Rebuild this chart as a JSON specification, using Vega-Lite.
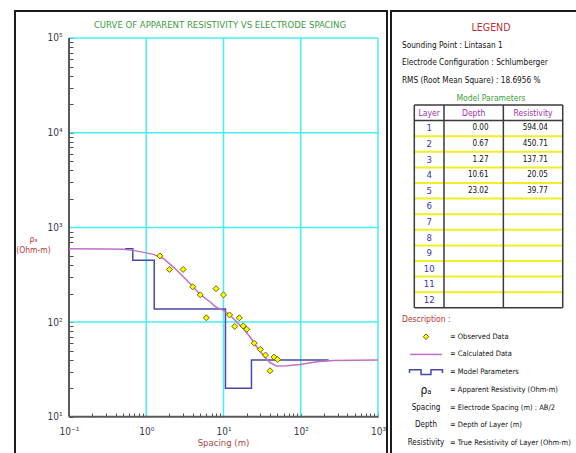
{
  "$schema": "https://vega.github.io/schema/vega-lite/v6.json",
  "background": "white",
  "padding": {"left": 14, "top": 10, "right": 0, "bottom": 0},
  "spacing": 2,
  "config": {
    "view": {"stroke": "#1c1c1c", "strokeWidth": 2},
    "font": "Liberation Sans Narrow, DejaVu Sans Condensed, Liberation Sans, sans-serif",
    "text": {"font": "Liberation Sans Narrow, DejaVu Sans Condensed, Liberation Sans, sans-serif", "fontSize": 9}
  },
  "hconcat": [
    {
      "width": 372,
      "height": 453,
      "title": {
        "text": "CURVE OF APPARENT RESISTIVITY VS ELECTRODE SPACING",
        "fontSize": 9.5,
        "fontWeight": "normal",
        "color": "#3c9c3c",
        "anchor": "middle",
        "dx": 19,
        "offset": -18
      },
      "layer": [
        {
          "data": {"values": [{"gx": 1}, {"gx": 10}, {"gx": 100}, {"gx": 1000}]},
          "mark": {"type": "rule", "color": "#45eef5", "strokeWidth": 1.5},
          "encoding": {
            "x": {
              "field": "gx",
              "type": "quantitative",
              "scale": {"type": "log", "domain": [0.02, 1308.3], "nice": false},
              "axis": {
                "orient": "bottom",
                "offset": -47,
                "values": [0.1, 0.2, 0.3, 0.4, 0.5, 0.6, 0.7, 0.8, 0.9, 1, 2, 3, 4, 5, 6, 7, 8, 9, 10, 20, 30, 40, 50, 60, 70, 80, 90, 100, 200, 300, 400, 500, 600, 700, 800, 900, 1000],
                "labelExpr": "datum.value == 0.1 ? '10⁻¹' : datum.value == 1 ? '10⁰' : datum.value == 10 ? '10¹' : datum.value == 100 ? '10²' : datum.value == 1000 ? '10³' : ''",
                "domain": false,
                "grid": false,
                "tickSize": -4,
                "tickColor": "#505050",
                "tickWidth": 1,
                "labelPadding": 13,
                "labelFontSize": 10,
                "labelColor": "#3a3a4a",
                "labelOverlap": false,
                "labelFlush": false,
                "title": "Spacing (m)",
                "titleColor": "#a84848",
                "titleFontSize": 9.5,
                "titleFontWeight": "normal",
                "titleX": 208,
                "titleY": 25,
                "titleAlign": "center",
                "titleBaseline": "middle"
              }
            },
            "y": {"datum": 10},
            "y2": {"datum": 100000}
          }
        },
        {
          "data": {"values": [{"gy": 100}, {"gy": 1000}, {"gy": 10000}, {"gy": 100000}]},
          "mark": {"type": "rule", "color": "#45eef5", "strokeWidth": 1.5},
          "encoding": {
            "y": {
              "field": "gy",
              "type": "quantitative",
              "scale": {"type": "log", "domain": [3.174, 192800], "nice": false},
              "axis": {
                "orient": "left",
                "offset": -54,
                "values": [10, 20, 30, 40, 50, 60, 70, 80, 90, 100, 200, 300, 400, 500, 600, 700, 800, 900, 1000, 2000, 3000, 4000, 5000, 6000, 7000, 8000, 9000, 10000, 20000, 30000, 40000, 50000, 60000, 70000, 80000, 90000, 100000],
                "labelExpr": "datum.value == 10 ? '10¹' : datum.value == 100 ? '10²' : datum.value == 1000 ? '10³' : datum.value == 10000 ? '10⁴' : datum.value == 100000 ? '10⁵' : ''",
                "domain": false,
                "grid": false,
                "tickSize": -4,
                "tickColor": "#505050",
                "tickWidth": 1,
                "labelPadding": 11,
                "labelFontSize": 10,
                "labelColor": "#3a3a4a",
                "labelOverlap": false,
                "labelFlush": false,
                "title": ["ρₐ", "(Ohm-m)"],
                "titleColor": "#b83a3a",
                "titleFontSize": 8.5,
                "titleFontWeight": "normal",
                "titleAngle": 0,
                "titleX": -36,
                "titleY": 227,
                "titleAlign": "center",
                "titleBaseline": "middle",
                "titleLineHeight": 11
              }
            },
            "x": {"datum": 0.1},
            "x2": {"datum": 1000}
          }
        },
        {
          "data": {"values": [{}]},
          "mark": {"type": "rule", "color": "#5a5a5a", "strokeWidth": 2},
          "encoding": {"x": {"datum": 0.1}, "x2": {"datum": 1000}, "y": {"datum": 10}}
        },
        {
          "data": {"values": [{}]},
          "mark": {"type": "rule", "color": "#5a5a5a", "strokeWidth": 2},
          "encoding": {"x": {"datum": 0.1}, "y": {"datum": 10}, "y2": {"datum": 100000}}
        },
        {
          "data": {
            "values": [
              {"depth": 0.53, "rho": 594.04},
              {"depth": 0.67, "rho": 450.71},
              {"depth": 1.27, "rho": 137.71},
              {"depth": 10.61, "rho": 20.05},
              {"depth": 23.02, "rho": 39.77},
              {"depth": 230, "rho": 39.77}
            ]
          },
          "mark": {"type": "line", "interpolate": "step-after", "color": "#4848a8", "strokeWidth": 1.5},
          "encoding": {
            "x": {"field": "depth", "type": "quantitative"},
            "y": {"field": "rho", "type": "quantitative"}
          }
        },
        {
          "data": {
            "values": [
              {"spacing": 0.1, "rho": 594},
              {"spacing": 0.3, "rho": 593},
              {"spacing": 0.5, "rho": 588},
              {"spacing": 0.685, "rho": 572},
              {"spacing": 0.92, "rho": 545},
              {"spacing": 1.24, "rho": 519},
              {"spacing": 1.68, "rho": 467},
              {"spacing": 2.25, "rho": 381},
              {"spacing": 3.04, "rho": 299},
              {"spacing": 3.71, "rho": 254},
              {"spacing": 5.0, "rho": 196},
              {"spacing": 6.73, "rho": 163},
              {"spacing": 8.0, "rho": 144},
              {"spacing": 10, "rho": 133},
              {"spacing": 12.2, "rho": 118},
              {"spacing": 14.9, "rho": 100},
              {"spacing": 18.1, "rho": 85},
              {"spacing": 22.1, "rho": 69.5},
              {"spacing": 27, "rho": 54.5},
              {"spacing": 33, "rho": 44.5},
              {"spacing": 40.2, "rho": 37.2},
              {"spacing": 49, "rho": 34.3},
              {"spacing": 66, "rho": 34.7},
              {"spacing": 98.5, "rho": 35.7},
              {"spacing": 162, "rho": 38.2},
              {"spacing": 265, "rho": 39.4},
              {"spacing": 1000, "rho": 39.77}
            ]
          },
          "mark": {"type": "line", "color": "#c070c0", "strokeWidth": 1.5},
          "encoding": {
            "x": {"field": "spacing", "type": "quantitative"},
            "y": {"field": "rho", "type": "quantitative"}
          }
        },
        {
          "data": {
            "values": [
              {"spacing": 1.5, "rho": 500},
              {"spacing": 2, "rho": 360},
              {"spacing": 3, "rho": 360},
              {"spacing": 4, "rho": 236},
              {"spacing": 5, "rho": 194},
              {"spacing": 6, "rho": 111},
              {"spacing": 8, "rho": 225},
              {"spacing": 10, "rho": 194},
              {"spacing": 12, "rho": 119},
              {"spacing": 14, "rho": 90},
              {"spacing": 16, "rho": 111},
              {"spacing": 18, "rho": 91},
              {"spacing": 20, "rho": 84},
              {"spacing": 25, "rho": 60},
              {"spacing": 30, "rho": 51.5},
              {"spacing": 35, "rho": 44.9},
              {"spacing": 40, "rho": 30.6},
              {"spacing": 45, "rho": 42.7},
              {"spacing": 50, "rho": 40.4}
            ]
          },
          "mark": {"type": "point", "shape": "diamond", "filled": true, "fill": "#ffff00", "stroke": "#6b6b00", "strokeWidth": 1, "size": 36, "opacity": 1},
          "encoding": {
            "x": {"field": "spacing", "type": "quantitative"},
            "y": {"field": "rho", "type": "quantitative"}
          }
        }
      ]
    },
    {
      "width": 200,
      "height": 453,
      "resolve": {"scale": {"x": "independent", "y": "independent"}},
      "layer": [
        {
          "layer": [
            {
              "data": {"values": [{"line": "legend", "text": "LEGEND"}]},
              "mark": {"type": "text", "color": "#b83232", "fontSize": 10.5, "align": "center"},
              "encoding": {
                "x": {"datum": "center", "type": "nominal", "scale": {"type": "point", "domain": ["left", "center"], "range": [11, 100], "padding": 0}, "axis": null},
                "y": {"field": "line", "type": "nominal", "scale": {"type": "point", "domain": ["legend", "sounding", "electrode", "rms", "model"], "range": [17, 87], "padding": 0}, "axis": null},
                "text": {"field": "text"}
              }
            },
            {
              "data": {
                "values": [
                  {"line": "sounding", "text": "Sounding Point : Lintasan 1"},
                  {"line": "electrode", "text": "Electrode Configuration : Schlumberger"},
                  {"line": "rms", "text": "RMS (Root Mean Square) : 18.6956 %"}
                ]
              },
              "mark": {"type": "text", "color": "#111111", "fontSize": 8.2, "align": "left"},
              "encoding": {
                "x": {"datum": "left", "type": "nominal", "axis": null},
                "y": {"field": "line", "type": "nominal", "axis": null},
                "text": {"field": "text"}
              }
            },
            {
              "data": {"values": [{"line": "model", "text": "Model Parameters"}]},
              "mark": {"type": "text", "color": "#3ca03c", "fontSize": 8.5, "align": "center"},
              "encoding": {
                "x": {"datum": "center", "type": "nominal", "axis": null},
                "y": {"field": "line", "type": "nominal", "axis": null},
                "text": {"field": "text"}
              }
            }
          ]
        },
        {
          "layer": [
            {
              "data": {"values": [{"r": "2"}, {"r": "3"}, {"r": "4"}, {"r": "5"}, {"r": "6"}, {"r": "7"}, {"r": "8"}, {"r": "9"}, {"r": "10"}, {"r": "11"}, {"r": "12"}]},
              "mark": {"type": "rule", "color": "#f2ee20", "strokeWidth": 2},
              "encoding": {
                "y": {"field": "r", "type": "nominal", "bandPosition": 0, "scale": {"type": "band", "domain": ["hdr", "1", "2", "3", "4", "5", "6", "7", "8", "9", "10", "11", "12", "end"], "range": [94, 312.4], "paddingInner": 0, "paddingOuter": 0}, "axis": null},
                "x": {"datum": "L", "type": "nominal", "bandPosition": 0, "scale": {"type": "band", "domain": ["L", "D1", "D2", "R1", "R2", "end"], "range": [23.3, 201.4], "paddingInner": 0, "paddingOuter": 0}, "axis": null},
                "x2": {"datum": "end", "bandPosition": 0}
              }
            },
            {
              "data": {"values": [{"r": "hdr"}, {"r": "1"}, {"r": "end"}]},
              "mark": {"type": "rule", "color": "#3a3a3a", "strokeWidth": 1.5},
              "encoding": {
                "y": {"field": "r", "type": "nominal", "bandPosition": 0, "axis": null},
                "x": {"datum": "L", "type": "nominal", "bandPosition": 0, "axis": null},
                "x2": {"datum": "end", "bandPosition": 0}
              }
            },
            {
              "data": {"values": [{"c": "L"}, {"c": "D1"}, {"c": "R1"}, {"c": "end"}]},
              "mark": {"type": "rule", "color": "#3a3a3a", "strokeWidth": 1.5},
              "encoding": {
                "x": {"field": "c", "type": "nominal", "bandPosition": 0, "axis": null},
                "y": {"datum": "hdr", "type": "nominal", "bandPosition": 0, "axis": null},
                "y2": {"datum": "end", "bandPosition": 0}
              }
            },
            {
              "data": {"values": [{"r": "hdr", "text": "Layer"}]},
              "mark": {"type": "text", "color": "#a030a8", "fontSize": 8.5, "align": "center"},
              "encoding": {
                "x": {"datum": "L", "type": "nominal", "bandPosition": 0.5, "axis": null},
                "y": {"field": "r", "type": "nominal", "bandPosition": 0.5, "axis": null},
                "text": {"field": "text"}
              }
            },
            {
              "data": {"values": [{"r": "hdr", "c": "D2", "text": "Depth"}, {"r": "hdr", "c": "R2", "text": "Resistivity"}]},
              "mark": {"type": "text", "color": "#a030a8", "fontSize": 8.5, "align": "center"},
              "encoding": {
                "x": {"field": "c", "type": "nominal", "bandPosition": 0, "axis": null},
                "y": {"field": "r", "type": "nominal", "bandPosition": 0.5, "axis": null},
                "text": {"field": "text"}
              }
            },
            {
              "data": {"name": "table", "values": [
                {"layer": "1", "depth": "0.00", "res": "594.04"},
                {"layer": "2", "depth": "0.67", "res": "450.71"},
                {"layer": "3", "depth": "1.27", "res": "137.71"},
                {"layer": "4", "depth": "10.61", "res": "20.05"},
                {"layer": "5", "depth": "23.02", "res": "39.77"},
                {"layer": "6", "depth": "", "res": ""},
                {"layer": "7", "depth": "", "res": ""},
                {"layer": "8", "depth": "", "res": ""},
                {"layer": "9", "depth": "", "res": ""},
                {"layer": "10", "depth": "", "res": ""},
                {"layer": "11", "depth": "", "res": ""},
                {"layer": "12", "depth": "", "res": ""}
              ]},
              "layer": [
                {
                  "mark": {"type": "text", "color": "#3838a8", "fontSize": 9.5, "align": "center"},
                  "encoding": {
                    "x": {"datum": "L", "type": "nominal", "bandPosition": 0.5, "axis": null},
                    "y": {"field": "layer", "type": "nominal", "bandPosition": 0.5, "axis": null},
                    "text": {"field": "layer"}
                  }
                },
                {
                  "mark": {"type": "text", "color": "#111111", "fontSize": 8, "align": "right"},
                  "encoding": {
                    "x": {"datum": "D2", "type": "nominal", "bandPosition": 0.5, "axis": null},
                    "y": {"field": "layer", "type": "nominal", "bandPosition": 0.5, "axis": null},
                    "text": {"field": "depth"}
                  }
                },
                {
                  "mark": {"type": "text", "color": "#111111", "fontSize": 8, "align": "right"},
                  "encoding": {
                    "x": {"datum": "R2", "type": "nominal", "bandPosition": 0.5, "axis": null},
                    "y": {"field": "layer", "type": "nominal", "bandPosition": 0.5, "axis": null},
                    "text": {"field": "res"}
                  }
                }
              ]
            }
          ]
        },
        {
          "layer": [
            {
              "data": {"values": [{"item": "desc", "text": "Description :"}]},
              "mark": {"type": "text", "color": "#b83232", "fontSize": 8.5, "align": "left"},
              "encoding": {
                "x": {"datum": "left", "type": "nominal", "scale": {"type": "point", "domain": ["left", "sym", "eq"], "range": [11, 59], "padding": 0}, "axis": null},
                "y": {"field": "item", "type": "nominal", "scale": {"type": "point", "domain": ["desc", "obs", "calc", "model", "rho", "spacing", "depth", "res"], "range": [308, 432], "padding": 0}, "axis": null},
                "text": {"field": "text"}
              }
            },
            {
              "data": {
                "values": [
                  {"item": "obs", "text": "= Observed Data"},
                  {"item": "calc", "text": "= Calculated Data"},
                  {"item": "model", "text": "= Model Parameters"},
                  {"item": "rho", "text": "= Apparent Resistivity (Ohm-m)"},
                  {"item": "spacing", "text": "= Electrode Spacing (m) : AB/2"},
                  {"item": "depth", "text": "= Depth of Layer (m)"},
                  {"item": "res", "text": "= True Resistivity of Layer (Ohm-m)"}
                ]
              },
              "mark": {"type": "text", "color": "#111111", "fontSize": 7.5, "align": "left"},
              "encoding": {
                "x": {"datum": "eq", "type": "nominal", "axis": null},
                "y": {"field": "item", "type": "nominal", "axis": null},
                "text": {"field": "text"}
              }
            },
            {
              "data": {
                "values": [
                  {"item": "spacing", "text": "Spacing"},
                  {"item": "depth", "text": "Depth"},
                  {"item": "res", "text": "Resistivity"}
                ]
              },
              "mark": {"type": "text", "color": "#111111", "fontSize": 8, "align": "center"},
              "encoding": {
                "x": {"datum": "sym", "type": "nominal", "axis": null},
                "y": {"field": "item", "type": "nominal", "axis": null},
                "text": {"field": "text"}
              }
            },
            {
              "data": {"values": [{"item": "rho", "text": "ρₐ"}]},
              "mark": {"type": "text", "color": "#111111", "fontSize": 12, "align": "center"},
              "encoding": {
                "x": {"datum": "sym", "type": "nominal", "axis": null},
                "y": {"field": "item", "type": "nominal", "axis": null},
                "text": {"field": "text"}
              }
            },
            {
              "data": {"values": [{"item": "obs"}]},
              "mark": {"type": "point", "shape": "diamond", "filled": true, "fill": "#ffff00", "stroke": "#6b6b00", "strokeWidth": 1, "size": 30, "opacity": 1},
              "encoding": {
                "x": {"datum": "sym", "type": "nominal", "axis": null},
                "y": {"field": "item", "type": "nominal", "axis": null}
              }
            },
            {
              "data": {"values": [{"item": "calc"}]},
              "mark": {"type": "point", "shape": "M-1,0L1,0", "filled": false, "stroke": "#c070c0", "strokeWidth": 1.5, "size": 1024, "opacity": 1},
              "encoding": {
                "x": {"datum": "sym", "type": "nominal", "axis": null},
                "y": {"field": "item", "type": "nominal", "axis": null}
              }
            },
            {
              "data": {"values": [{"item": "model"}]},
              "mark": {"type": "point", "shape": "M-1,0.05L-1,-0.15L-0.3,-0.15L-0.3,0.15L0.3,0.15L0.3,-0.15L1,-0.15L1,0.05", "filled": false, "stroke": "#4848a8", "strokeWidth": 1.5, "size": 1089, "opacity": 1},
              "encoding": {
                "x": {"datum": "sym", "type": "nominal", "axis": null},
                "y": {"field": "item", "type": "nominal", "axis": null}
              }
            }
          ]
        }
      ]
    }
  ]
}
